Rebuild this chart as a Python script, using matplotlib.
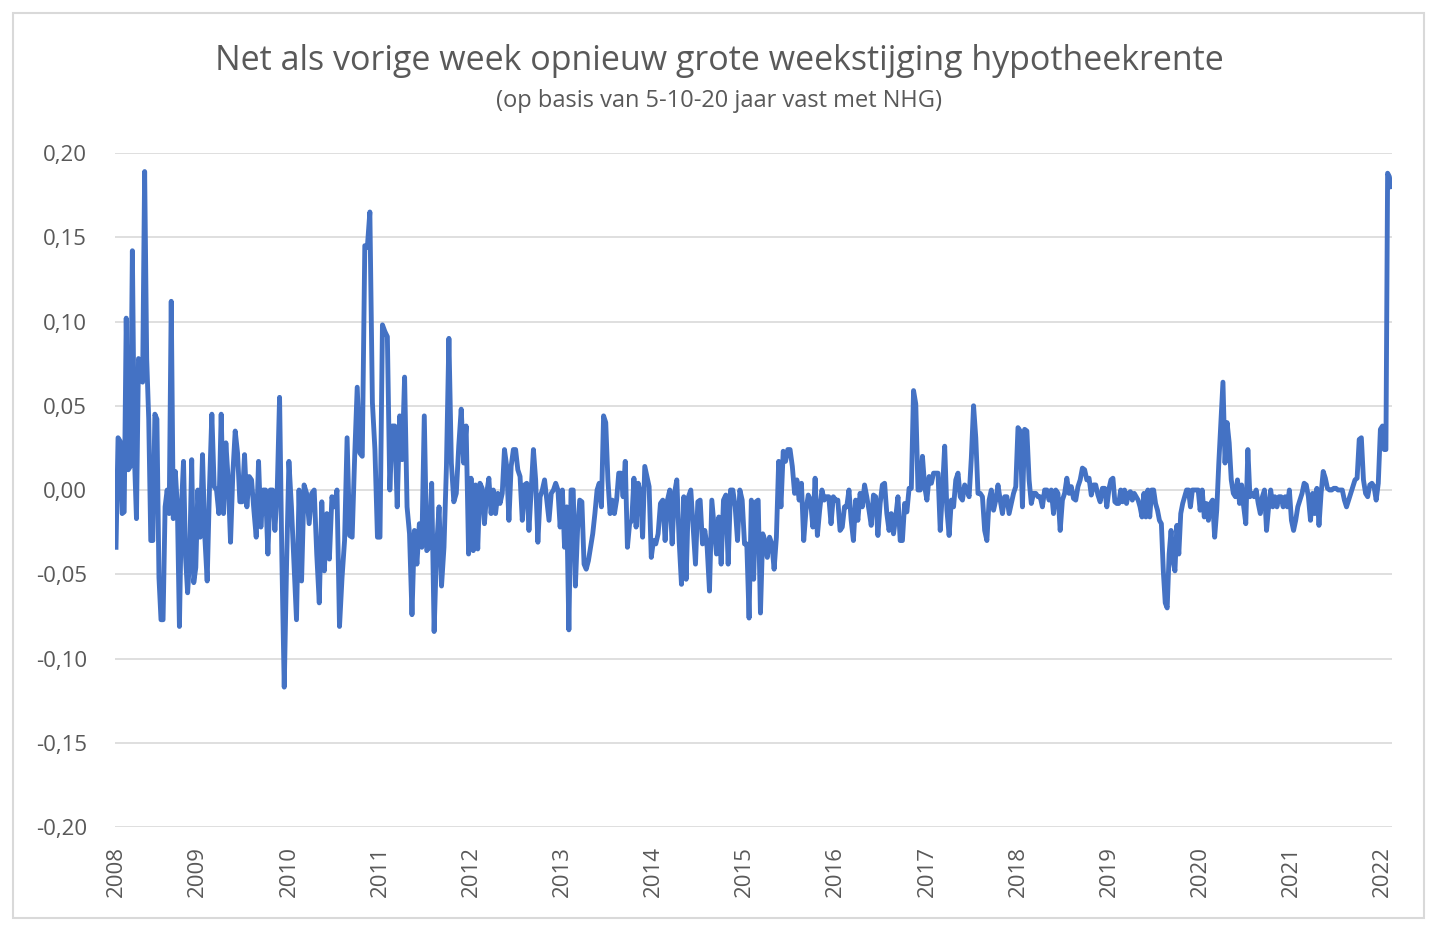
import numpy as np
import pandas as pd
import matplotlib
matplotlib.use('Agg')
import matplotlib.pyplot as plt
from matplotlib.patches import Rectangle
from matplotlib.ticker import FuncFormatter

# weekelijkse verandering hypotheekrente (procentpunt), per jaar
eerste_week = '2008-02-08'
laatste_week = '2022-02-04'

w2008 = [-0.034, 0.031, 0.029, -0.014, -0.013, 0.102, 0.012, 0.014, 0.142, 0.020, -0.017, 0.078, 0.076, 0.064,
         0.189, 0.078, 0.042, -0.030, -0.030, 0.045, 0.042, -0.052, -0.077, -0.077, -0.010, 0.000, -0.014, 0.112,
         -0.017, 0.011, -0.010, -0.081, -0.010, 0.017, -0.040, -0.061, -0.040, 0.018, -0.055, -0.046]
w2009 = [0.000, -0.028, 0.021, -0.028, -0.054, 0.002, 0.045, 0.002, 0.000, -0.014, 0.045, -0.014, 0.028, 0.006,
         -0.031, 0.010, 0.035, 0.022, -0.007, -0.007, 0.021, -0.010, 0.008, 0.006, -0.012, -0.028, 0.017, -0.022,
         0.000, 0.000, -0.038, 0.000, 0.000, -0.024, 0.000, 0.055, -0.042, -0.117, -0.044]
w2010 = [0.017, -0.010, -0.044, -0.077, 0.000, -0.054, 0.003, -0.002, -0.020, -0.002, 0.000, -0.038, -0.067,
         -0.007, -0.048, -0.014, -0.041, -0.004, -0.010, 0.000, -0.081, -0.052, -0.030, 0.031, -0.027, -0.028,
         0.020, 0.061, 0.022, 0.020, 0.145, 0.144, 0.165, 0.052, 0.024, -0.028]
w2011 = [-0.028, 0.098, 0.094, 0.091, 0.000, 0.038, 0.038, -0.010, 0.044, 0.018, 0.067, -0.010, -0.026, -0.074,
         -0.024, -0.044, -0.020, -0.034, 0.044, -0.036, -0.034, 0.004, -0.084, -0.034, -0.010, -0.057, -0.034,
         0.014, 0.090, 0.016, -0.007, -0.002, 0.026, 0.048, 0.016, 0.038, -0.038]
w2012 = [0.007, -0.036, 0.003, -0.035, 0.004, 0.001, -0.020, -0.002, 0.007, -0.014, 0.000, -0.014, -0.002, -0.008,
         -0.002, 0.024, 0.014, -0.018, 0.014, 0.024, 0.024, 0.012, 0.008, -0.018, 0.003, 0.004, -0.024, 0.000,
         0.024, 0.006, -0.031, -0.004, 0.000, 0.006, -0.006, -0.018, -0.002, 0.000, 0.004, 0.000, -0.022]
w2013 = [0.000, -0.034, -0.010, -0.083, 0.000, 0.000, -0.057, -0.024, -0.006, -0.007, -0.044, -0.047, -0.042,
         -0.034, -0.026, -0.014, 0.000, 0.004, -0.010, 0.044, 0.040, 0.006, -0.014, -0.006, -0.014, -0.006, 0.010,
         0.010, -0.004, 0.017, -0.034, -0.020, -0.018, 0.007, -0.022, 0.004, -0.002, -0.028, 0.014, 0.008, 0.002,
         -0.040]
w2014 = [-0.030, -0.032, -0.026, -0.008, -0.006, -0.030, -0.006, 0.000, -0.032, -0.002, 0.006, -0.030, -0.056,
         -0.004, -0.053, -0.004, 0.000, -0.022, -0.044, -0.007, -0.006, -0.032, -0.024, -0.034, -0.060, -0.006,
         -0.022, -0.038, -0.016, -0.044, -0.006, -0.003, -0.044, 0.000, 0.000, -0.010, -0.030, 0.000, -0.006]
w2015 = [-0.032, -0.032, -0.076, -0.006, -0.053, -0.007, -0.006, -0.073, -0.026, -0.030, -0.040, -0.028, -0.032,
         -0.047, -0.028, 0.017, -0.010, 0.023, 0.017, 0.024, 0.024, 0.014, -0.002, 0.006, -0.006, 0.004, -0.030,
         -0.012, -0.003, -0.006, -0.022, 0.007, -0.027, -0.012, 0.000, -0.006, -0.004, -0.004, -0.020, -0.004]
w2016 = [-0.006, -0.006, -0.024, -0.022, -0.010, -0.010, 0.000, -0.018, -0.030, -0.006, -0.018, -0.002, -0.010,
         0.003, -0.004, -0.012, -0.021, -0.003, -0.004, -0.027, -0.008, 0.003, 0.004, -0.014, -0.024, -0.014,
         -0.026, -0.016, -0.004, -0.030, -0.030, -0.008, -0.013, 0.001, 0.001, 0.059, 0.051, 0.000, 0.000, 0.020,
         0.002]
w2017 = [-0.006, 0.008, 0.004, 0.010, 0.010, 0.010, -0.024, 0.000, 0.026, -0.012, -0.027, -0.006, -0.010, 0.006,
         0.010, -0.004, -0.006, 0.003, 0.000, -0.004, 0.019, 0.050, 0.031, -0.002, -0.002, -0.004, -0.024, -0.030,
         -0.006, 0.000, -0.012, -0.006, 0.003, -0.006, -0.014, -0.004, -0.004, -0.014, -0.008, -0.002, 0.002]
w2018 = [0.037, 0.035, -0.010, 0.036, 0.035, 0.006, -0.008, -0.002, -0.002, -0.004, -0.004, -0.010, 0.000, 0.000,
         -0.006, 0.000, -0.014, 0.000, -0.002, -0.024, -0.006, -0.002, 0.007, -0.002, 0.002, -0.005, -0.006, 0.002,
         0.006, 0.013, 0.012, 0.006, 0.007, -0.003, 0.003, 0.003, -0.003, -0.007, 0.001, 0.001, -0.010]
w2019 = [0.001, 0.006, 0.007, -0.007, -0.008, -0.008, 0.000, -0.007, 0.000, -0.008, -0.002, -0.001, -0.006, -0.002,
         -0.004, -0.006, -0.010, -0.016, -0.002, -0.016, 0.000, -0.016, 0.000, 0.000, -0.008, -0.012, -0.018,
         -0.020, -0.048, -0.067, -0.070, -0.038, -0.024, -0.042, -0.048, -0.021, -0.038, -0.014, -0.008, -0.004,
         0.000, 0.000, -0.010, 0.000, 0.000, 0.000, 0.000]
w2020 = [-0.012, 0.000, -0.016, -0.008, -0.018, -0.008, -0.006, -0.028, -0.012, 0.016, 0.040, 0.064, 0.016, 0.040,
         0.028, 0.006, -0.002, -0.004, 0.006, -0.008, 0.003, -0.010, -0.020, 0.024, -0.004, -0.002, -0.004, 0.000,
         -0.008, -0.014, -0.004, 0.000, -0.024, -0.010, 0.000, -0.010, -0.004, -0.010, -0.004, -0.004, -0.010,
         -0.004, -0.010, 0.000]
w2021 = [-0.018, -0.024, -0.018, -0.010, -0.006, -0.002, 0.004, 0.003, -0.004, -0.018, -0.002, -0.014, 0.001,
         -0.021, -0.002, 0.011, 0.007, 0.001, 0.000, 0.000, 0.001, 0.001, 0.000, 0.000, 0.000, -0.006, -0.010,
         -0.006, -0.002, 0.002, 0.006, 0.007, 0.030, 0.031, 0.006, -0.002, -0.004, 0.003, 0.004, 0.002, -0.006,
         0.004, 0.036]
w2022 = [0.038, 0.024, 0.024, 0.188, 0.186, 0.180]

jaren = list(range(2008, 2023))
reeksen = [w2008, w2009, w2010, w2011, w2012, w2013, w2014, w2015, w2016, w2017,
           w2018, w2019, w2020, w2021, w2022]

# datums per jaar gelijkmatig verdelen
x_all, y_all = [], []
for jaar, vals in zip(jaren, reeksen):
    start = max(pd.Timestamp(f'{jaar}-01-01'), pd.Timestamp(eerste_week))
    if jaar == 2022:
        eind = pd.Timestamp(laatste_week)
        d = np.linspace(start.value, eind.value, len(vals))
    else:
        eind = pd.Timestamp(f'{jaar + 1}-01-01')
        d = np.linspace(start.value, eind.value, len(vals), endpoint=False)
    x_all.extend(pd.to_datetime(d))
    y_all.extend(vals)

plt.rcParams['font.family'] = ['Open Sans', 'DejaVu Sans']
grijs = '#595959'

fig = plt.figure(figsize=(14.4, 9.31), dpi=100)
ax = fig.add_axes([115 / 1440, 1 - 827 / 931, (1392 - 115) / 1440, (827 - 153) / 931])

ax.plot(x_all, y_all, color='#4472C4', lw=3.5, solid_joinstyle='round', zorder=3)

ax.set_ylim(-0.2, 0.2)
ax.set_yticks(np.arange(-0.20, 0.201, 0.05))
ax.yaxis.set_major_formatter(FuncFormatter(lambda v, p: f'{v:.2f}'.replace('.', ',').replace('-0,00', '0,00')))
ax.grid(axis='y', color='#D9D9D9', lw=1.2)
ax.set_axisbelow(True)

ticks = [pd.Timestamp(eerste_week)] + [pd.Timestamp(f'{j}-01-01') for j in jaren[1:]]
ax.set_xticks(ticks)
ax.set_xticklabels([str(j) for j in jaren], rotation=90, va='top', ha='center')
ax.set_xlim(pd.Timestamp(eerste_week) - pd.Timedelta(days=4), pd.Timestamp(laatste_week) + pd.Timedelta(days=4))

for s in ax.spines.values():
    s.set_visible(False)
ax.tick_params(axis='both', length=0, labelsize=16, labelcolor=grijs)
ax.tick_params(axis='y', pad=20)
ax.tick_params(axis='x', pad=14)

fig.text(0.4993, 1 - 61 / 931, 'Net als vorige week opnieuw grote weekstijging hypotheekrente',
         ha='center', va='center', fontsize=24.5, color=grijs)
fig.text(0.4993, 1 - 101 / 931, '(op basis van 5-10-20 jaar vast met NHG)',
         ha='center', va='center', fontsize=17, color=grijs)

fig.patches.append(Rectangle((13 / 1440, 1 - 918 / 931), 1411 / 1440, 905 / 931, transform=fig.transFigure,
                             fill=False, edgecolor='#D9D9D9', lw=1.5))

fig.savefig('out.png', dpi=100, facecolor='white')
